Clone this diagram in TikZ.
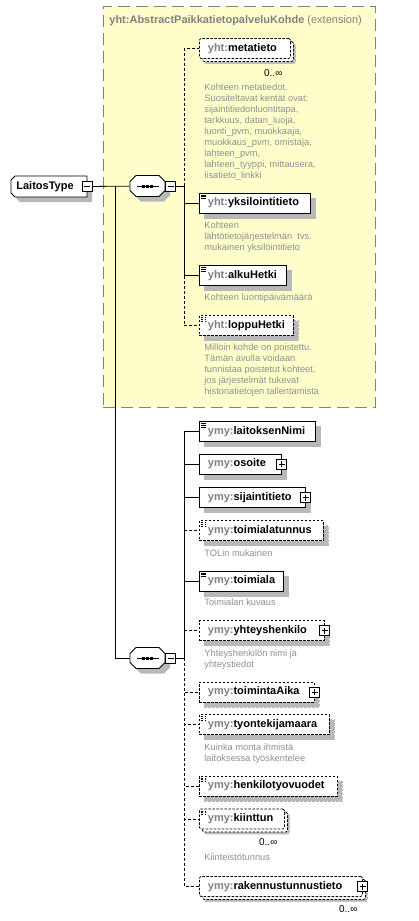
\documentclass[tikz,border=0pt]{standalone}
\usepackage{fontspec}
\setmainfont{Liberation Sans}
\usepackage{tikz}
\usetikzlibrary{positioning, shadows}

\definecolor{extfill}{HTML}{FFFFCC}
\definecolor{extline}{HTML}{808080}
\definecolor{prefgray}{HTML}{808080}
\definecolor{descgray}{HTML}{8F8F8F}
\colorlet{shadowcol}{black!28}

\newcommand{\pre}[1]{\textcolor{prefgray}{#1}}
% outline with cut corners: x1, y1, x2, y2, left cut, right cut
\newcommand{\cutpath}[6]{({#1+#5},#2) -- ({#3-#6},#2) -- (#3,{#2+#6}) -- (#3,{#4-#6})
  -- ({#3-#6},#4) -- ({#1+#5},#4) -- (#1,{#4-#5}) -- (#1,{#2+#5}) -- cycle}

\begin{document}
\begin{tikzpicture}[x=1pt, y=-1pt, line width=0.8pt,
  boxshadow/.style={general shadow={shadow xshift=5pt, shadow yshift=-5pt, fill=shadowcol, draw=shadowcol}},
  elem/.style={draw, fill=white, anchor=west, minimum height=20pt, inner xsep=8.5pt, inner ysep=0pt,
    text height=8pt, text depth=2.5pt, align=left, font=\fontsize{11}{13}\selectfont\bfseries, boxshadow},
  opt/.style={dash pattern=on 2.5pt off 1.5pt},
  multi/.style={rounded corners=1.5pt, general shadow={shadow xshift=3pt, shadow yshift=-3pt,
    draw=black, fill=white, dash pattern=on 2.5pt off 1.5pt}},
  simple/.style={path picture={\foreach \d in {2pt,3.7pt,5.4pt}
    \draw[line width=.6pt] ([xshift=1.5pt, yshift=-\d]path picture bounding box.north west) -- +(5pt,0);}},
  desc/.style={anchor=north west, inner sep=0pt, align=left, text=descgray, font=\fontsize{9.3}{11}\selectfont},
  card/.style={anchor=north east, inner sep=0pt, font=\fontsize{10}{12}\selectfont},
  pm/.style={draw, fill=white, minimum size=10pt, inner sep=0pt, line width=.7pt},
  minus/.style={pm, path picture={\draw[line width=.7pt] ([xshift=2pt]path picture bounding box.west)
    -- ([xshift=-2pt]path picture bounding box.east);}},
  plus/.style={pm, path picture={\draw[line width=.7pt] ([xshift=2pt]path picture bounding box.west)
    -- ([xshift=-2pt]path picture bounding box.east);
    \draw[line width=.7pt] ([yshift=-2pt]path picture bounding box.north)
    -- ([yshift=2pt]path picture bounding box.south);}},
  seq/.style={minimum width=35pt, minimum height=21pt, inner sep=0pt},
  optlink/.style={dash pattern=on 3pt off 2pt}
]
\useasboundingbox (0,0) rectangle (418,921);

% extension box
\node[draw=extline, fill=extfill, dash pattern=on 12pt off 6pt, anchor=north west, inner sep=0pt,
  minimum width=272pt, minimum height=401pt] (ext) at (103,6) {};
\node[anchor=base west, inner sep=0pt, text=prefgray, font=\fontsize{11}{13}\selectfont] (ext-t)
  at (109,23.5) {\textbf{yht:AbstractPaikkatietopalveluKohde} (extension)};

% root and sequence outlines
\fill[shadowcol] \cutpath{16}{181}{92}{202}{4}{0};
\filldraw[fill=white] \cutpath{11}{176}{87}{197}{4}{0};
\foreach \y in {175.5,647.5} {
  \fill[shadowcol] \cutpath{135}{\y+5}{170}{\y+26}{6}{6};
  \filldraw[fill=white] \cutpath{130}{\y}{165}{\y+21}{6}{6};
}

% root and sequences
\node[anchor=west, inner sep=0pt, font=\fontsize{11}{13}\selectfont\bfseries] (lt) at (16,186.5) {LaitosType};
\node[minus] (lt-m) at (87,186.5) {};
\node[seq] (s1) at (147.5,186) {};
\node[minus, anchor=west] (s1-m) at (s1.east) {};
\node[seq] (s2) at (147.5,658) {};
\node[minus, anchor=west] (s2-m) at (s2.east) {};
\foreach \s in {s1,s2} {
  \draw ([xshift=-11pt]\s.center) -- ([xshift=11pt]\s.center);
  \foreach \dx in {-4pt,0pt,4pt}
    \fill ([xshift=\dx]\s.center) +(-1.5,-1.5) rectangle +(1.5,1.5);
}
\coordinate (t) at (115,186);
\coordinate (b1) at (184,186);
\coordinate (b2) at (184,658);

% inherited elements
\node[elem, opt, multi, text width=74pt] (meta) at (199,48.5) {\pre{yht:}metatieto};
\node[elem, simple, text width=94pt] (yks) at (199,203) {\pre{yht:}yksilointitieto};
\node[elem, simple, text width=70pt] (alku) at (199,275.5) {\pre{yht:}alkuHetki};
\node[elem, simple, opt, text width=77pt] (loppu) at (199,325.5) {\pre{yht:}loppuHetki};

\node[card] (meta-c) at ([xshift=-8pt,yshift=-10pt]meta.south east) {0..∞};
\node[desc] (meta-d) at (204,83) {Kohteen metatiedot.\\Suositeltavat kentät ovat:\\sijaintitiedonluontitapa,\\tarkkuus, datan\_luoja,\\luonti\_pvm, muokkaaja,\\muokkaus\_pvm, omistaja,\\lahteen\_pvm,\\lahteen\_tyyppi, mittausera,\\lisatieto\_linkki};
\node[desc] (yks-d) at (204,221) {Kohteen\\lähtötietojärjestelmän\ \ tvs.\\mukainen yksilöintitieto};
\node[desc] (alku-d) at (204,293) {Kohteen luontipäivämäärä};
\node[desc] (loppu-d) at (204,343) {Milloin kohde on poistettu.\\Tämän avulla voidaan\\tunnistaa poistetut kohteet,\\jos järjestelmät tukevat\\historiatietojen tallentamista};

% own elements
\node[elem, simple, text width=99pt] (nimi) at (199,431.5) {\pre{ymy:}laitoksenNimi};
\node[elem, text width=65pt] (osoite) at (199,464) {\pre{ymy:}osoite};
\node[plus] (osoite-p) at (osoite.east) {};
\node[elem, text width=89pt] (sij) at (199,497.5) {\pre{ymy:}sijaintitieto};
\node[plus] (sij-p) at (sij.east) {};
\node[elem, simple, opt, text width=107pt] (tunnus) at (199,530.5) {\pre{ymy:}toimialatunnus};
\node[elem, simple, text width=67pt] (toimiala) at (199,581) {\pre{ymy:}toimiala};
\node[elem, opt, text width=108pt] (yhteys) at (199,630.5) {\pre{ymy:}yhteyshenkilo};
\node[plus] (yhteys-p) at (yhteys.east) {};
\node[elem, opt, text width=98pt] (aika) at (199,692) {\pre{ymy:}toimintaAika};
\node[plus] (aika-p) at (aika.east) {};
\node[elem, simple, opt, text width=113pt] (tyon) at (199,724.5) {\pre{ymy:}tyontekijamaara};
\node[elem, simple, opt, text width=121pt] (htv) at (199,786) {\pre{ymy:}henkilotyovuodet};
\node[elem, simple, opt, multi, text width=68pt] (kiint) at (199,819) {\pre{ymy:}kiinttun};
\node[elem, opt, multi, text width=146pt] (rak) at (199,886.5) {\pre{ymy:}rakennustunnustieto};
\node[plus] (rak-p) at (rak.east) {};

\node[desc] (tunnus-d) at (204,549) {TOLin mukainen};
\node[desc] (toimiala-d) at (204,598) {Toimialan kuvaus};
\node[desc] (yhteys-d) at (204,649) {Yhteyshenkilön nimi ja\\yhteystiedot};
\node[desc] (tyon-d) at (204,743) {Kuinka monta ihmistä\\laitoksessa työskentelee};
\node[card] (kiint-c) at ([xshift=-7pt,yshift=-9pt]kiint.south east) {0..∞};
\node[desc] (kiint-d) at (204,853) {Kiinteistötunnus};
\node[card] (rak-c) at ([xshift=-5pt,yshift=-8pt]rak.south east) {0..∞};

% connectors
\draw (lt-m) -- (s1);
\draw (t) |- (s2);
\draw (s1-m) -- (b1);
\draw (s2-m) -- (b2);

\draw[optlink] (b1) |- (meta);
\draw (b1) |- (yks);
\draw (b1) |- (alku);
\draw[optlink] (alku.west -| b1) |- (loppu);

\draw (b2) |- (nimi);
\draw (b2) |- (osoite);
\draw (b2) |- (sij);
\draw[optlink] (tunnus.west -| b2) -- (tunnus);
\draw (b2) |- (toimiala);
\draw[optlink] (yhteys.west -| b2) -- (yhteys);
\draw[optlink] (b2) |- (aika);
\draw[optlink] (b2) |- (tyon);
\draw[optlink] (b2) |- (htv);
\draw[optlink] (b2) |- (kiint);
\draw[optlink] (b2) |- (rak);
\end{tikzpicture}
\end{document}
